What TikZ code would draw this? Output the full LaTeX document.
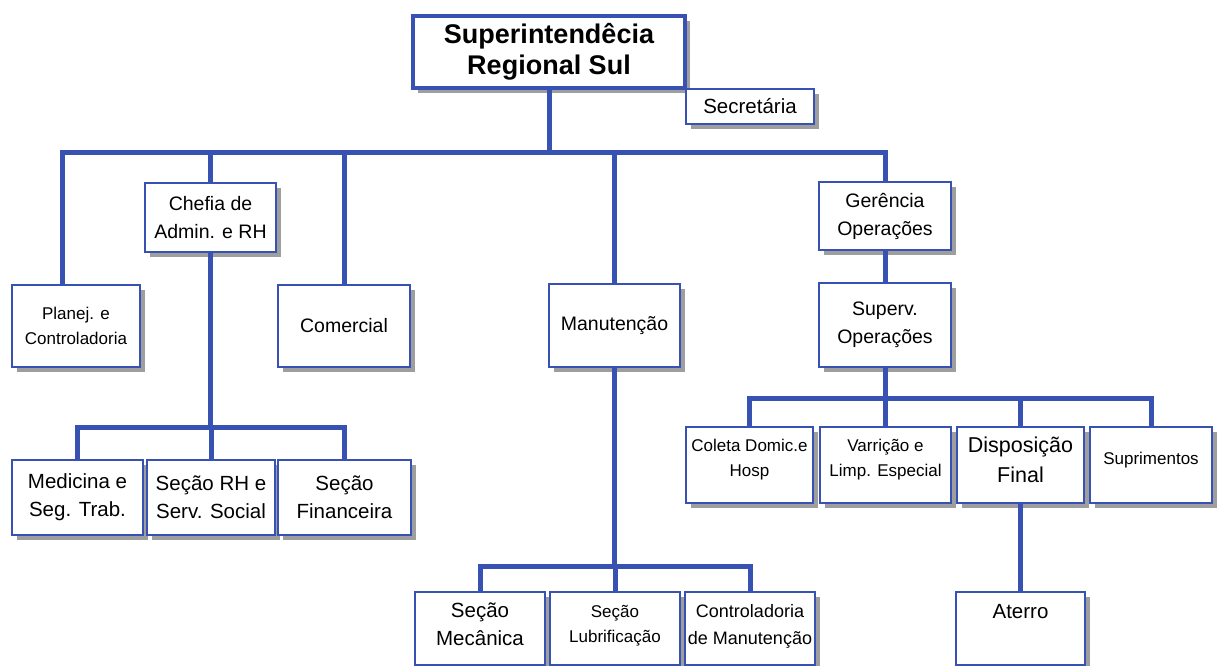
\documentclass[tikz,border=0pt]{standalone}
\usepackage{fontspec}
\setmainfont{Liberation Sans}
\usetikzlibrary{shadows}
\definecolor{bblue}{RGB}{55,82,178}
\definecolor{shgray}{RGB}{158,158,158}
\newcommand{\fsz}[2]{\fontsize{#1}{#2}\selectfont}
\begin{document}
\begin{tikzpicture}[x=1pt,y=-1pt,
  box/.style={draw=bblue, line width=1.8pt, fill=white, align=center, inner sep=0pt,
    drop shadow={shadow xshift=5pt, shadow yshift=-5pt, fill=shgray, opacity=1}},
  conn/.style={draw=bblue, line width=5pt},
  f17/.style={font=\fsz{17}{25}},
  f18/.style={font=\fsz{18}{27}},
  f19/.style={font=\fsz{19.5}{28}},
  f20/.style={font=\fsz{20.5}{28}},
  f21/.style={font=\fsz{21.5}{30}}]
\useasboundingbox (0,0) rectangle (1218,666);
% top
\node[box, line width=3.5pt, minimum width=272, minimum height=72, font=\bfseries\fsz{27}{31}] (sup) at (549,52) {Superintendêcia\\Regional Sul};
\node[box, line width=1.4pt, minimum width=128, minimum height=35, f20] (sec) at (750,106.5) {Secretária};
% second level
\node[box, minimum width=128, minimum height=82, f17] (planej) at (76,326) {Planej. e\\Controladoria};
\node[box, minimum width=131, minimum height=69, f19] (chefia) at (210.5,217.5) {Chefia de\\Admin. e RH};
\node[box, minimum width=132, minimum height=82, f19] (comercial) at (344,326) {Comercial};
\node[box, minimum width=131, minimum height=83, f19] (manut) at (614.5,325.5) {Manutenção};
\node[box, minimum width=132, minimum height=68, f19] (ger) at (885,216) {Gerência\\Operações};
\node[box, minimum width=132, minimum height=84, f19] (superv) at (885,325) {Superv.\\Operações};
% Chefia children
\node[box, minimum width=131, minimum height=75, f20] (med) at (77.5,497.5) {Medicina e\\Seg. Trab.};
\node[box, minimum width=128, minimum height=75, f20] (rh) at (211,497.5) {Seção RH e\\Serv. Social};
\node[box, minimum width=133, minimum height=75, f20] (fin) at (344.5,497.5) {Seção\\Financeira};
% Manutencao children
\node[box, minimum width=130, minimum height=73, f20, text depth=9pt] (mec) at (480,628.5) {Seção\\Mecânica};
\node[box, minimum width=130, minimum height=73, f17, text depth=9pt] (lub) at (615,628.5) {Seção\\Lubrificação};
\node[box, minimum width=130, minimum height=73, f18, text depth=9pt] (ctrl) at (750,628.5) {Controladoria\\de Manutenção};
% Superv children
\node[box, minimum width=127, minimum height=76, f17, text depth=14pt] (col) at (749.5,465) {Coleta Domic.e\\Hosp};
\node[box, minimum width=131, minimum height=76, f17, text depth=14pt] (var) at (885.5,465) {Varrição e\\Limp. Especial};
\node[box, minimum width=127, minimum height=76, f21, text depth=10pt] (dis) at (1020.5,465) {Disposição\\Final};
\node[box, minimum width=122, minimum height=76, f17, text depth=14pt] (supr) at (1151,465) {Suprimentos};
\node[box, minimum width=129, minimum height=73, f20, text depth=34pt] (aterro) at (1020.5,628.5) {Aterro};
% connectors
\coordinate (b1) at (0,153);
\coordinate (b2) at (0,427);
\coordinate (b3) at (0,566);
\coordinate (b4) at (0,398);
\coordinate (pjtop) at (62,285);
\draw[conn] (sup.south) -- (sup.south |- b1) -| (pjtop);
\draw[conn] (sup.south) -- (sup.south |- b1) -| (chefia.north);
\draw[conn] (sup.south) -- (sup.south |- b1) -| (comercial.north);
\draw[conn] (sup.south) -- (sup.south |- b1) -| (manut.north);
\draw[conn] (sup.south) -- (sup.south |- b1) -| (ger.north);
\draw[conn] (ger.south) -- (superv.north);
\draw[conn] (chefia.south) -- (chefia.south |- b2) -| (med.north);
\draw[conn] (chefia.south) -- (chefia.south |- b2) -| (rh.north);
\draw[conn] (chefia.south) -- (chefia.south |- b2) -| (fin.north);
\draw[conn] (manut.south) -- (manut.south |- b3) -| (mec.north);
\draw[conn] (manut.south) -- (manut.south |- b3) -| (lub.north);
\draw[conn] (manut.south) -- (manut.south |- b3) -| (ctrl.north);
\draw[conn] (superv.south) -- (superv.south |- b4) -| (col.north);
\draw[conn] (superv.south) -- (superv.south |- b4) -| (var.north);
\draw[conn] (superv.south) -- (superv.south |- b4) -| (dis.north);
\draw[conn] (superv.south) -- (superv.south |- b4) -| (supr.north);
\draw[conn] (dis.south) -- (aterro.north);
\end{tikzpicture}
\end{document}
